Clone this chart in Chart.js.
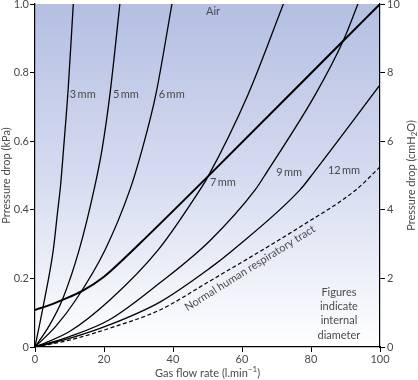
<!DOCTYPE html>
<html><head><meta charset="utf-8">
<script src="https://cdn.jsdelivr.net/npm/chart.js@4"></script>
<style>html,body{margin:0;padding:0;background:#fff}#wrap{width:418px;height:380px}</style>
</head><body><div id="wrap"><canvas id="c" width="418" height="380"></canvas></div>
<script>
// Axis ticks
const flowTicks = [0, 20, 40, 60, 80, 100];
const kpaTicks = [0, 0.2, 0.4, 0.6, 0.8, 1.0];
const cmH2OTicks = [0, 2, 4, 6, 8, 10];

// Series (flow l/min -> pressure drop kPa)
const tube3Flow = [0, 2.5, 5.3, 6.5, 7.4, 8.3, 9.6, 11.1];
const tube3Kpa  = [0, 0.125, 0.283, 0.39, 0.47, 0.58, 0.75, 1.0];
const tube5Flow = [0, 4, 7.9, 12.8, 17.1, 19.4, 21.7, 24.6];
const tube5Kpa  = [0, 0.06, 0.137, 0.283, 0.458, 0.574, 0.735, 1.0];
const tube6Flow = [0, 6, 11.8, 20.3, 27.5, 31.0, 35.0, 39.7];
const tube6Kpa  = [0, 0.06, 0.137, 0.283, 0.458, 0.574, 0.735, 1.0];
const tube7Flow = [0, 10, 21.7, 35.7, 47.8, 50.1, 61.7, 72];
const tube7Kpa  = [0, 0.045, 0.137, 0.283, 0.458, 0.496, 0.735, 1.0];
const tube9Flow = [0, 10, 21.7, 36.2, 50.7, 63.8, 67.2, 81.2, 89.3, 93.6];
const tube9Kpa  = [0, 0.03, 0.08, 0.187, 0.31, 0.458, 0.51, 0.735, 0.892, 1.0];
const tube12Flow = [0, 10, 21.7, 36.2, 50.7, 57.4, 76.8, 80.9, 100];
const tube12Kpa  = [0, 0.025, 0.065, 0.131, 0.23, 0.283, 0.458, 0.51, 0.764];
const normalFlow = [0, 10, 21.7, 36.2, 50.3, 76.8, 93, 100];
const normalKpa  = [0, 0.02, 0.055, 0.108, 0.19, 0.35, 0.458, 0.525];
const airFlow = [0, 5, 10, 14, 20, 25, 30, 50, 89.3, 100];
const airKpa  = [0.108, 0.125, 0.146, 0.165, 0.205, 0.25, 0.298, 0.496, 0.892, 1.0];

const FONT = 'Lato';
const TXT = '#4a4a4a';

function pts(xs, ys) { return xs.map((x, i) => ({x: x, y: ys[i]})); }
function curve(xs, ys, w, dash) {
  return { data: pts(xs, ys), borderColor: '#000', borderWidth: w, borderDash: dash || [],
    pointRadius: 0, cubicInterpolationMode: 'monotone', fill: false, yAxisID: 'y' };
}

const bgPlugin = {
  id: 'bg',
  beforeDraw(chart) {
    const {ctx, chartArea: a} = chart;
    const g = ctx.createLinearGradient(0, a.top, 0, a.bottom);
    g.addColorStop(0, '#b4bfe2');
    g.addColorStop(0.5, '#d5dbf0');
    g.addColorStop(1, '#ffffff');
    ctx.save(); ctx.fillStyle = g;
    ctx.fillRect(a.left, a.top, a.right - a.left, a.bottom - a.top);
    ctx.restore();
  }
};

const textPlugin = {
  id: 'texts',
  afterDraw(chart) {
    const {ctx, chartArea: a} = chart;
    const xs = chart.scales.x, ys = chart.scales.y;
    const X = v => xs.getPixelForValue(v), Y = v => ys.getPixelForValue(v);
    ctx.save();
    ctx.fillStyle = TXT;
    ctx.font = '11px ' + FONT;
    ctx.textBaseline = 'middle';
    // curve labels
    ctx.textAlign = 'center';
    ctx.fillText('Air', X(51.6), Y(0.977));
    ctx.textAlign = 'left';
    [['3\u2009mm', 10.1, 0.735], ['5\u2009mm', 22.6, 0.735], ['6\u2009mm', 35.9, 0.735],
     ['7\u2009mm', 50.7, 0.481], ['9\u2009mm', 69.9, 0.51], ['12\u2009mm', 84.9, 0.516]]
      .forEach(l => ctx.fillText(l[0], X(l[1]), Y(l[2])));
    // note block
    ctx.textAlign = 'center';
    [['Figures', 0.160], ['indicate', 0.117], ['internal', 0.076], ['diameter', 0.035]]
      .forEach(l => ctx.fillText(l[0], X(88.1), Y(l[1])));
    // rotated label along dashed curve
    ctx.save();
    ctx.translate(X(62.3), Y(0.23));
    ctx.rotate(-32 * Math.PI / 180);
    ctx.textAlign = 'center';
    ctx.fillText('Normal human respiratory tract', 0, 0);
    ctx.restore();

    // x axis title with superscript
    const cx = (a.left + a.right) / 2, ty = 373;
    const main = 'Gas flow rate (l.min', sup = '\u22121', end = ')';
    ctx.font = '11px ' + FONT;
    const w1 = ctx.measureText(main).width, w3 = ctx.measureText(end).width;
    ctx.font = '8px ' + FONT;
    const w2 = ctx.measureText(sup).width;
    let sx = cx - (w1 + w2 + w3) / 2;
    ctx.textAlign = 'left';
    ctx.font = '11px ' + FONT; ctx.fillText(main, sx, ty);
    ctx.font = '8px ' + FONT; ctx.fillText(sup, sx + w1, ty - 4);
    ctx.font = '11px ' + FONT; ctx.fillText(end, sx + w1 + w2, ty);

    // left title
    const cy = (a.top + a.bottom) / 2;
    ctx.save();
    ctx.translate(6, cy);
    ctx.rotate(-Math.PI / 2);
    ctx.textAlign = 'center';
    ctx.fillText('Prressure drop (kPa)', 0, 0);
    ctx.restore();

    // right title with subscript, reading bottom to top
    ctx.save();
    ctx.translate(411, cy);
    ctx.rotate(-Math.PI / 2);
    const r1 = 'Pressure drop (cmH', r2 = '2', r3 = 'O)';
    ctx.font = '11px ' + FONT;
    const q1 = ctx.measureText(r1).width, q3 = ctx.measureText(r3).width;
    ctx.font = '8px ' + FONT;
    const q2 = ctx.measureText(r2).width;
    let rx = -(q1 + q2 + q3) / 2;
    ctx.textAlign = 'left';
    ctx.font = '11px ' + FONT; ctx.fillText(r1, rx, 0);
    ctx.font = '8px ' + FONT; ctx.fillText(r2, rx + q1, 3);
    ctx.font = '11px ' + FONT; ctx.fillText(r3, rx + q1 + q2, 0);
    ctx.restore();
    ctx.restore();
  }
};

const axisCommon = {
  grid: { display: true, drawOnChartArea: false, drawTicks: true, tickLength: 5, color: '#000' },
  border: { display: true, color: '#000', width: 1.2 },
};

new Chart(document.getElementById('c'), {
  type: 'line',
  data: {
    datasets: [
      curve(tube3Flow, tube3Kpa, 1.3),
      curve(tube5Flow, tube5Kpa, 1.3),
      curve(tube6Flow, tube6Kpa, 1.3),
      curve(tube7Flow, tube7Kpa, 1.3),
      curve(tube9Flow, tube9Kpa, 1.3),
      curve(tube12Flow, tube12Kpa, 1.3),
      curve(normalFlow, normalKpa, 1.2, [4, 2.5]),
      curve(airFlow, airKpa, 2.0)
    ]
  },
  options: {
    responsive: false, animation: false,
    layout: { padding: { top: 4, left: 0, right: 0, bottom: 0 } },
    plugins: { legend: { display: false }, tooltip: { enabled: false }, title: { display: false } },
    scales: {
      x: Object.assign({}, axisCommon, {
        type: 'linear', min: 0, max: 100,
        afterBuildTicks: s => { s.ticks = flowTicks.map(v => ({value: v})); },
        ticks: { color: TXT, font: { family: FONT, size: 11 }, padding: 1, maxRotation: 0 },
        afterFit: s => { s.height = 33; s.paddingLeft = 0; s.paddingRight = 0; }
      }),
      y: Object.assign({}, axisCommon, {
        type: 'linear', position: 'left', min: 0, max: 1,
        afterBuildTicks: s => { s.ticks = kpaTicks.map(v => ({value: v})); },
        ticks: { color: TXT, font: { family: FONT, size: 11 }, padding: 1,
          callback: v => v === 0 ? '0' : v.toFixed(1) },
        afterFit: s => { s.width = 35; s.paddingTop = 0; s.paddingBottom = 0; }
      }),
      y2: Object.assign({}, axisCommon, {
        type: 'linear', position: 'right', min: 0, max: 10,
        afterBuildTicks: s => { s.ticks = cmH2OTicks.map(v => ({value: v})); },
        ticks: { color: TXT, font: { family: FONT, size: 11 }, padding: 2 },
        afterFit: s => { s.width = 38; s.paddingTop = 0; s.paddingBottom = 0; }
      })
    }
  },
  plugins: [bgPlugin, textPlugin]
});
</script>
</body></html>
